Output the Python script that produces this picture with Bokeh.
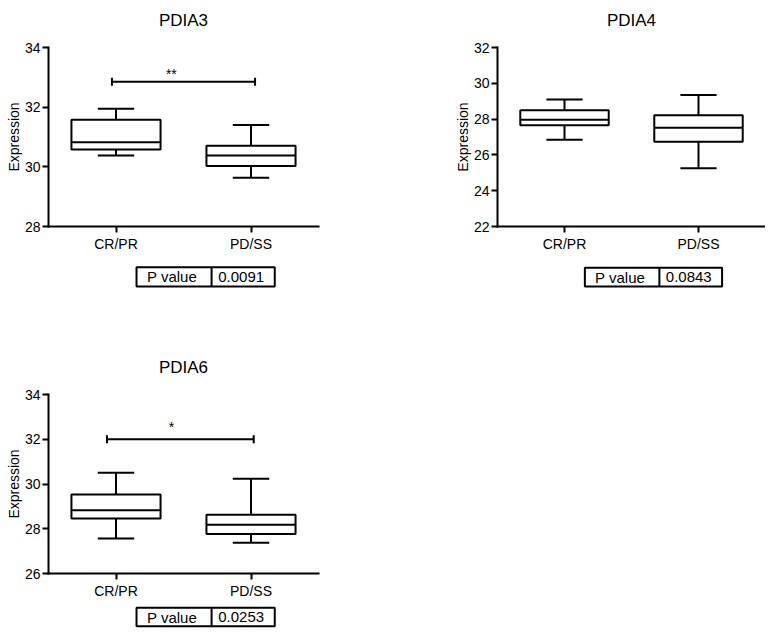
import math
from bokeh.plotting import figure
from bokeh.models import Range1d, FixedTicker, Title
from bokeh.layouts import column, row
from bokeh.embed import file_html
from bokeh.resources import INLINE
from bokeh.core.properties import value

FONT = "Liberation Sans"

# ---------------- data ----------------
categories = ["CR/PR", "PD/SS"]

pdia3_high = [31.95, 31.40]
pdia3_q3 = [31.58, 30.71]
pdia3_median = [30.82, 30.38]
pdia3_q1 = [30.58, 30.03]
pdia3_low = [30.38, 29.63]
pdia3_ticks = [28, 30, 32, 34]

pdia4_high = [29.10, 29.34]
pdia4_q3 = [28.50, 28.21]
pdia4_median = [27.97, 27.52]
pdia4_q1 = [27.66, 26.74]
pdia4_low = [26.85, 25.25]
pdia4_ticks = [22, 24, 26, 28, 30, 32]

pdia6_high = [30.50, 30.23]
pdia6_q3 = [29.53, 28.63]
pdia6_median = [28.83, 28.18]
pdia6_q1 = [28.46, 27.76]
pdia6_low = [27.56, 27.37]
pdia6_ticks = [26, 28, 30, 32, 34]

genes = ["PDIA3", "PDIA4", "PDIA6"]
p_values = ["0.0091", "0.0843", "0.0253"]
sig_marks = ["**", None, "*"]
sig_bar_level = [32.85, None, 32.0]
# --------------------------------------

FRAME_H = 179
TABLE_X = (1.152, 1.708, 2.176)   # left edge, divider, right edge (x-scale units)


def style_axis(ax):
    ax.axis_line_width = 2
    ax.axis_line_color = "black"
    ax.axis_line_cap = "square"
    ax.major_tick_line_width = 2
    ax.major_tick_line_color = "black"
    ax.major_tick_out = 6
    ax.major_tick_in = 0
    ax.minor_tick_out = 0
    ax.minor_tick_in = 0
    ax.major_label_text_font = FONT
    ax.major_label_text_font_size = "14px"
    ax.major_label_text_color = "black"


def make_chart(gene, high, q3, med, q1, low, ticks, sig, sig_y, star_y,
               bar_pad, left, frame_w, right, top, bottom, spacer_font, spacer_standoff):
    xs = [i + 1 for i in range(len(categories))]
    p = figure(width=left + frame_w + right, height=top + FRAME_H + bottom,
               x_range=Range1d(0.5, len(categories) + 0.5),
               y_range=Range1d(ticks[0], ticks[-1]),
               output_backend="svg", toolbar_location=None,
               min_border_left=left, min_border_right=right,
               min_border_top=top, min_border_bottom=bottom)
    p.grid.visible = False
    p.outline_line_color = None
    p.background_fill_color = "white"
    p.border_fill_color = "white"
    p.title = None
    # thin empty spacer that lifts the real title a few pixels off the frame
    p.add_layout(Title(text=" ", text_font_size=spacer_font, standoff=spacer_standoff), "above")
    p.add_layout(Title(text=gene, text_font=FONT, text_font_size="17px",
                       text_font_style="normal", text_color="black", align="center"), "above")

    style_axis(p.xaxis[0])
    style_axis(p.yaxis[0])
    p.xaxis.ticker = FixedTicker(ticks=xs)
    p.xaxis.major_label_overrides = {x: c for x, c in zip(xs, categories)}
    p.xaxis.major_label_standoff = 3
    p.yaxis.ticker = FixedTicker(ticks=ticks)
    p.yaxis.major_label_standoff = 2
    p.yaxis.axis_label = "Expression"
    p.yaxis.axis_label_text_font = FONT
    p.yaxis.axis_label_text_font_size = "14px"
    p.yaxis.axis_label_text_font_style = "normal"
    p.yaxis.axis_label_text_color = "black"
    p.yaxis.axis_label_standoff = 0

    bw = 0.66
    cw = 0.27
    # whiskers
    p.segment(x0=xs, y0=q3, x1=xs, y1=high, line_color="black", line_width=2)
    p.segment(x0=xs, y0=q1, x1=xs, y1=low, line_color="black", line_width=2)
    p.segment(x0=[x - cw / 2 for x in xs], y0=high, x1=[x + cw / 2 for x in xs], y1=high,
              line_color="black", line_width=2)
    p.segment(x0=[x - cw / 2 for x in xs], y0=low, x1=[x + cw / 2 for x in xs], y1=low,
              line_color="black", line_width=2)
    # boxes
    p.quad(left=[x - bw / 2 for x in xs], right=[x + bw / 2 for x in xs], top=q3, bottom=q1,
           fill_color="white", line_color="black", line_width=2)
    p.segment(x0=[x - bw / 2 for x in xs], y0=med, x1=[x + bw / 2 for x in xs], y1=med,
              line_color="black", line_width=2)

    if sig:
        bx = [xs[0] + bar_pad[0], xs[-1] + bar_pad[1]]
        p.segment(x0=[bx[0]], y0=[sig_y], x1=[bx[1]], y1=[sig_y],
                  line_color="black", line_width=2)
        p.scatter(x=bx, y=[sig_y, sig_y], marker="dash", angle=math.pi / 2, size=8,
                  line_color="black", line_width=2)
        p.text(x=[1.41], y=[star_y], text=[sig], text_font=value(FONT),
               text_font_size="14px", text_align="center", text_baseline="middle",
               text_color="black")
    return p


def make_table(chart, left, right, height, tt, tb, pval):
    t = figure(width=chart.width, height=height, x_range=chart.x_range,
               y_range=Range1d(height, 0), output_backend="svg", toolbar_location=None,
               x_axis_location=None, y_axis_location=None,
               min_border_left=left, min_border_right=right,
               min_border_top=0, min_border_bottom=0)
    t.grid.visible = False
    t.outline_line_color = None
    t.background_fill_color = "white"
    t.border_fill_color = "white"
    tl, td, tr = TABLE_X
    t.quad(left=[tl], right=[tr], top=[tt], bottom=[tb], fill_color="white",
           line_color="black", line_width=2)
    t.segment(x0=[td], y0=[tt], x1=[td], y1=[tb], line_color="black", line_width=2)
    t.text(x=[(tl + td) / 2, (td + tr) / 2], y=[(tt + tb) / 2, (tt + tb) / 2],
           text=["P value", pval], text_font=value(FONT), text_font_size="15px",
           text_align="center", text_baseline="middle", text_color="black",
           x_offset=-2)
    return t


c1 = make_chart(genes[0], pdia3_high, pdia3_q3, pdia3_median, pdia3_q1, pdia3_low,
                pdia3_ticks, sig_marks[0], sig_bar_level[0], 33.11, (-0.03, 0.03),
                left=48, frame_w=270, right=22, top=47, bottom=30,
                spacer_font="7px", spacer_standoff=4)
t1 = make_table(c1, 48, 22, 42, 10.7, 30, p_values[0])

c2 = make_chart(genes[1], pdia4_high, pdia4_q3, pdia4_median, pdia4_q1, pdia4_low,
                pdia4_ticks, sig_marks[1], sig_bar_level[1], None, (0, 0),
                left=157, frame_w=268, right=0, top=47, bottom=30,
                spacer_font="7px", spacer_standoff=4)
t2 = make_table(c2, 157, 0, 42, 11.3, 30, p_values[1])

c3 = make_chart(genes[2], pdia6_high, pdia6_q3, pdia6_median, pdia6_q1, pdia6_low,
                pdia6_ticks, sig_marks[2], sig_bar_level[2], 32.53, (-0.067, 0.02),
                left=48, frame_w=270, right=22, top=96, bottom=30,
                spacer_font="1px", spacer_standoff=10)
t3 = make_table(c3, 48, 22, 27, 4.3, 22.7, p_values[2])

layout = column(row(column(c1, t1), column(c2, t2)), column(c3, t3))

open("out.html", "w").write(file_html(layout, INLINE))
